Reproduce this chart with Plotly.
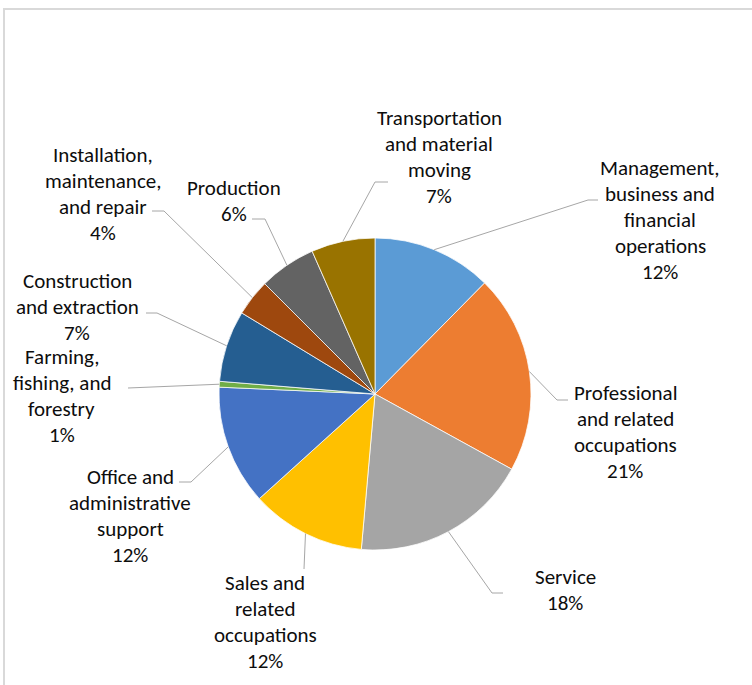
import math
import plotly.graph_objects as go

# ---------------- data ----------------
categories = [
    "Management, business and financial operations",
    "Professional and related occupations",
    "Service",
    "Sales and related occupations",
    "Office and administrative support",
    "Farming, fishing, and forestry",
    "Construction and extraction",
    "Installation, maintenance, and repair",
    "Production",
    "Transportation and material moving",
]
values = [12.4, 20.6, 18.4, 11.9, 12.4, 0.6, 7.4, 3.8, 5.9, 6.6]
label_lines = [
    ["Management,", "business and", "financial", "operations"],
    ["Professional", "and related", "occupations"],
    ["Service"],
    ["Sales and", "related", "occupations"],
    ["Office and", "administrative", "support"],
    ["Farming,", "fishing, and", "forestry"],
    ["Construction", "and extraction"],
    ["Installation,", "maintenance,", "and repair"],
    ["Production"],
    ["Transportation", "and material", "moving"],
]
colors = ["#5B9BD5", "#ED7D31", "#A5A5A5", "#FFC000", "#4472C4",
          "#70AD47", "#255E91", "#9E480E", "#636363", "#997300"]

# ---------------- layout (pixels) ----------------
W, H = 752, 685
CX, CY, R = 375, 394, 156
# label block: centre x, first line centre y
label_pos = [(660, 168), (625, 393), (565, 577), (265, 583), (130, 477),
             (62, 357), (77, 281), (103, 155), (234, 188), (439, 118)]
# leader line: elbow point, end point (pixels)
leader = [((588, 200), (598, 200)), ((557, 400), (568, 400)),
          ((492, 593), (503, 593)), ((304, 569), (304, 569)),
          ((191, 482), (179, 482)), ((128, 388), (128, 388)),
          ((157, 313), (146, 313)), ((164, 211), (152, 211)),
          ((265, 219), (252, 219)), ((375, 182), (388, 182))]
LINE_H = 26
FONT = "Carlito, Lato, sans-serif"
FSIZE = 21


def px(x):
    return x / W


def py(y):
    return 1 - y / H


fig = go.Figure()
fig.add_trace(go.Pie(
    labels=categories, values=values, sort=False, direction="clockwise",
    rotation=0, textinfo="none", showlegend=False, hoverinfo="label+percent",
    marker=dict(colors=colors, line=dict(color="white", width=0.75)),
    domain=dict(x=[px(CX - R), px(CX + R)], y=[py(CY + R), py(CY - R)]),
))

total = sum(values)
annotations = []
shapes = []
cum = 0.0
for i, v in enumerate(values):
    mid = (cum + v / 2) / total * 2 * math.pi
    cum += v
    sx = CX + R * math.sin(mid)
    sy = CY - R * math.cos(mid)
    (ex, ey), (fx, fy) = leader[i]
    lc = dict(color="#A6A6A6", width=1)
    shapes.append(dict(type="line", xref="paper", yref="paper",
                       x0=px(sx), y0=py(sy), x1=px(ex), y1=py(ey), line=lc))
    if (ex, ey) != (fx, fy):
        shapes.append(dict(type="line", xref="paper", yref="paper",
                           x0=px(ex), y0=py(ey), x1=px(fx), y1=py(fy), line=lc))
    lines = label_lines[i] + [f"{round(v / total * 100)}%"]
    lx, ly = label_pos[i]
    for k, t in enumerate(lines):
        annotations.append(dict(
            text=t, x=px(lx), y=py(ly + k * LINE_H), xref="paper", yref="paper",
            xanchor="center", yanchor="middle", showarrow=False,
            font=dict(family=FONT, size=FSIZE, color="#0d0d0d")))

# chart frame (only top and left edges visible)
shapes.append(dict(type="rect", xref="paper", yref="paper",
                   x0=px(4), y0=py(9), x1=px(W + 20), y1=py(H + 20),
                   line=dict(color="#D9D9D9", width=2), layer="below"))

fig.update_layout(
    width=W, height=H, margin=dict(l=0, r=0, t=0, b=0),
    paper_bgcolor="white", plot_bgcolor="white",
    annotations=annotations, shapes=shapes,
)

fig.write_html("out.html", config={"displayModeBar": False},
               post_script="document.body.style.margin='0';document.body.style.overflow='hidden';")
